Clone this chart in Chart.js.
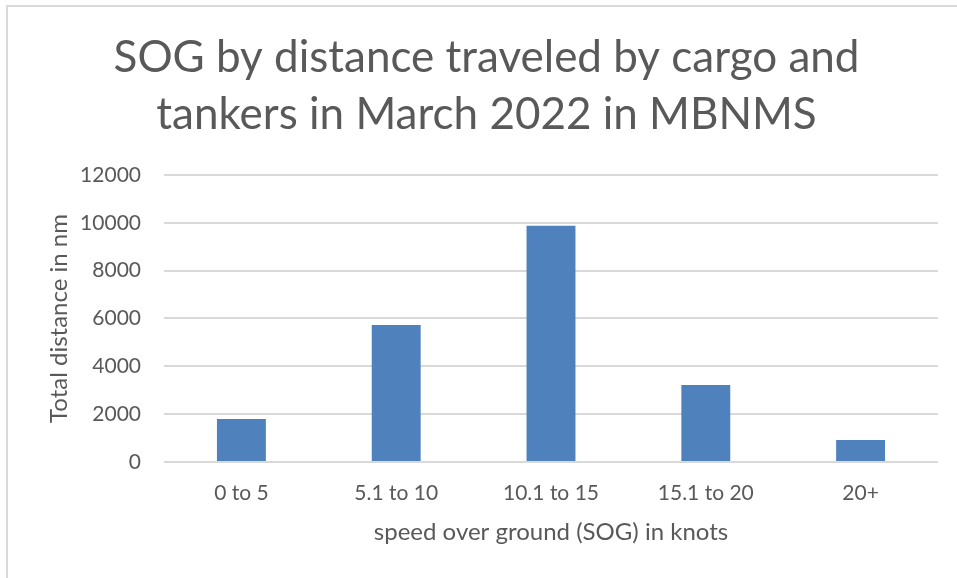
<!DOCTYPE html>
<html>
<head>
<meta charset="utf-8">
<script src="https://cdn.jsdelivr.net/npm/chart.js@4.4.1/dist/chart.umd.min.js"></script>
<style>
  html, body { margin: 0; padding: 0; background: #fff; }
  #wrap { position: relative; width: 957px; height: 578px; }
  #frame { position: absolute; left: 6px; top: 5px; right: 0; bottom: 0;
           border-top: 2px solid #d9d9d9; border-left: 2px solid #d9d9d9; }
  canvas { position: absolute; left: 0; top: 0; }
</style>
</head>
<body>
<div id="wrap">
  <div id="frame"></div>
  <canvas id="chart" width="957" height="578"></canvas>
</div>
<script>
// chart values
const speedBins = ['0 to 5', '5.1 to 10', '10.1 to 15', '15.1 to 20', '20+'];
const distanceNm = [1800, 5730, 9880, 3220, 920];
const yTicks = [0, 2000, 4000, 6000, 8000, 10000, 12000];

const titleLines = ['SOG by distance traveled by cargo and', 'tankers in March 2022 in MBNMS'];
const xTitle = 'speed over ground (SOG) in knots';
const yTitle = 'Total distance in nm';

const textColor = '#595959';
const gridColor = '#d9d9d9';
const barColor = '#4f81bd';
const fontFamily = 'Lato, "Open Sans", sans-serif';

Chart.defaults.font.family = fontFamily;
Chart.defaults.color = textColor;

const ctx = document.getElementById('chart').getContext('2d');
new Chart(ctx, {
    type: 'bar',
    data: {
        labels: speedBins,
        datasets: [{
            label: 'Total distance',
            data: distanceNm,
            backgroundColor: barColor,
            borderWidth: 0,
            categoryPercentage: 1,
            barPercentage: 0.316
        }]
    },
    options: {
        responsive: false,
        animation: false,
        layout: { padding: { left: 35, right: 19, top: 0, bottom: 0 } },
        plugins: {
            legend: { display: false },
            tooltip: { enabled: false },
            title: {
                display: true,
                text: titleLines,
                color: textColor,
                font: { size: 44, weight: 'normal', lineHeight: 1.284 },
                padding: { top: 30, bottom: 32 }
            }
        },
        scales: {
            x: {
                grid: { display: false, drawTicks: false },
                border: { display: false },
                ticks: { color: textColor, font: { size: 21 }, padding: 19, maxRotation: 0 },
                title: {
                    display: true,
                    text: xTitle,
                    color: textColor,
                    font: { size: 24, lineHeight: 1.2 },
                    padding: { top: 0, bottom: 31 }
                },
                afterFit: (scale) => { scale.height = 116; }
            },
            y: {
                min: 0,
                max: 12000,
                afterBuildTicks: (scale) => { scale.ticks = yTicks.map(v => ({ value: v })); },
                grid: { color: gridColor, lineWidth: 2, drawTicks: false },
                border: { display: false },
                ticks: {
                    color: textColor,
                    font: { size: 21 },
                    padding: 23,
                    callback: (value) => String(value)
                },
                title: {
                    display: true,
                    text: yTitle,
                    color: textColor,
                    font: { size: 24, lineHeight: 1.2 },
                    padding: { top: 10, bottom: 0 }
                },
                afterFit: (scale) => { scale.width = 129; }
            }
        }
    }
});
</script>
</body>
</html>
